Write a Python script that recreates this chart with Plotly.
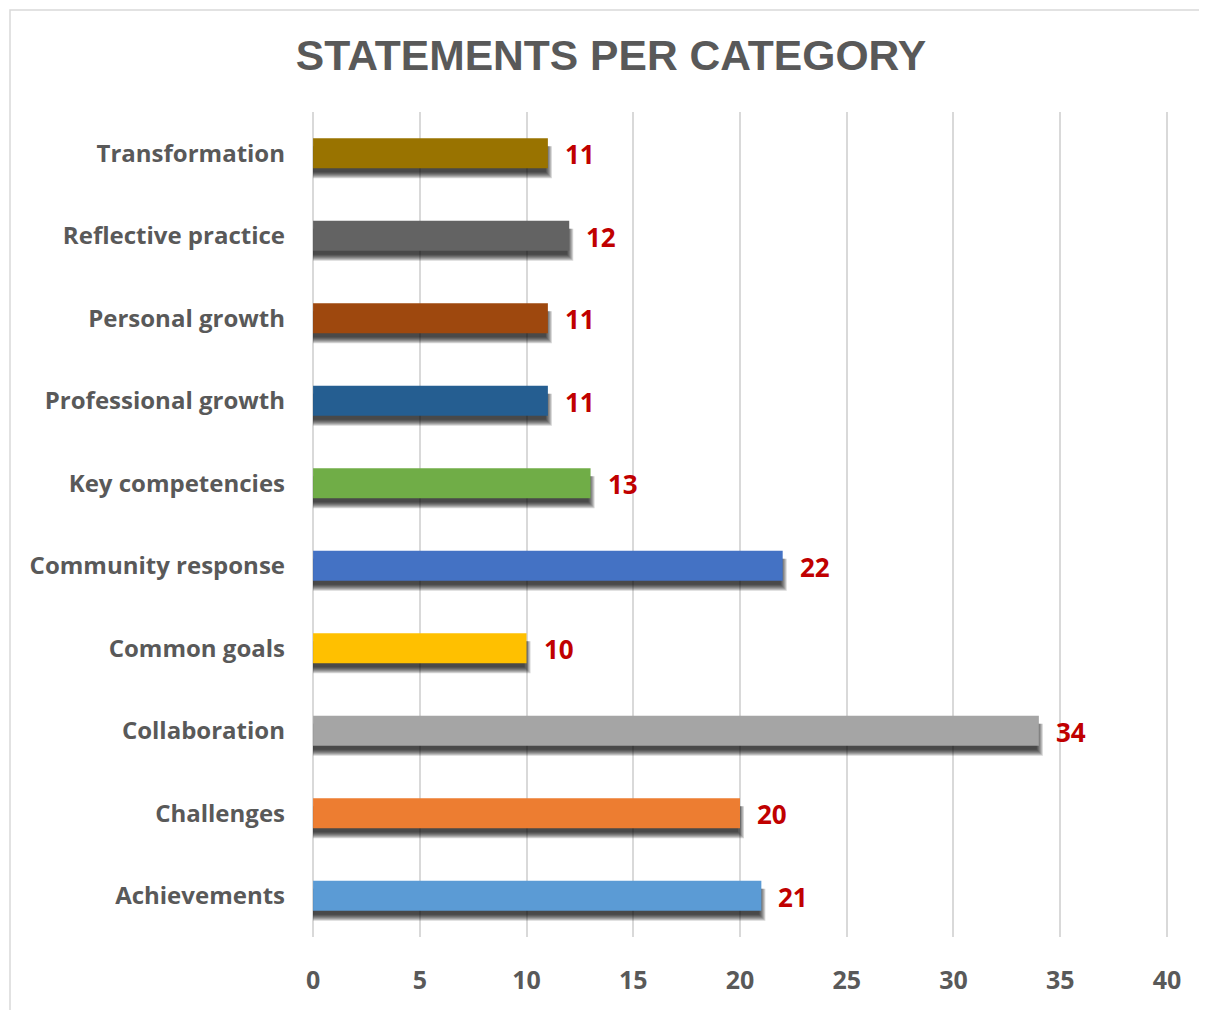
import plotly.graph_objects as go

categories = ["Achievements", "Challenges", "Collaboration", "Common goals",
              "Community response", "Key competencies", "Professional growth",
              "Personal growth", "Reflective practice", "Transformation"]
values = [21, 20, 34, 10, 22, 13, 11, 11, 12, 11]
colors = ["#5B9BD5", "#ED7D31", "#A5A5A5", "#FFC000", "#4472C4",
          "#70AD47", "#255E91", "#9E480E", "#636363", "#997300"]
x_ticks = [0, 5, 10, 15, 20, 25, 30, 35, 40]

# page has an 8px body margin, so figure coordinates are page coordinates - 8
OFF = 8
W, H = 1207 - OFF, 1010 - OFF
XR = [-0.05, 40.05]
ML, MR, MT, MB = 313 - OFF - 1, 1207 - 1167 - 1, 112 - OFF, 1010 - 937
plot_w = W - ML - MR
plot_h = H - MT - MB
px_x = (XR[1] - XR[0]) / plot_w
px_y = 10 / plot_h
bar_w = 30 * px_y

fig = go.Figure()

# soft (blurred) shadow layers: below and slightly right of each bar, none above
for s in [6, 5, 4, 3, 2, 1, 0]:
    fig.add_trace(go.Bar(
        y=categories, x=[v + (s - 2) * px_x for v in values], orientation="h",
        width=bar_w + (s - 4) * px_y,
        offset=-(bar_w / 2) - (4 + s) * px_y,
        marker=dict(color="rgba(0,0,0,0.16)", line=dict(width=0)),
        hoverinfo="skip", showlegend=False))

fig.add_trace(go.Bar(
    y=categories, x=values, orientation="h", width=bar_w,
    marker=dict(color=colors, line=dict(width=0)), showlegend=False))

for c, v in zip(categories, values):
    fig.add_annotation(x=v, y=c, text=f"<b>{v}</b>", showarrow=False,
                       xanchor="left", yanchor="middle", xshift=15, yshift=-1,
                       font=dict(family="Open Sans", size=26, color="#C00000"))

# outer chart border
fig.add_shape(type="rect", xref="paper", yref="paper",
              x0=(10 - OFF - ML) / plot_w, x1=(W + 20 - ML) / plot_w,
              y0=-(MB + 20) / plot_h, y1=1 + (MT - (10 - OFF)) / plot_h,
              line=dict(color="#D9D9D9", width=1.5), layer="below")

fig.update_layout(
    width=W, height=H, barmode="overlay",
    margin=dict(l=ML, r=MR, t=MT, b=MB),
    paper_bgcolor="white", plot_bgcolor="white",
    title=dict(text="<b>STATEMENTS PER CATEGORY</b>", x=(611 - OFF) / W, xanchor="center",
               y=1 - (55 - OFF) / H, yanchor="middle",
               font=dict(family="Liberation Sans", size=42.6, color="#595959")),
    xaxis=dict(range=XR, tickvals=x_ticks, showgrid=True, gridcolor="#D9D9D9",
               gridwidth=2, zeroline=False, showline=False, ticks="",
               ticklabelstandoff=26,
               ticktext=[f"<b>{t}</b>" for t in x_ticks],
               tickfont=dict(family="Open Sans", size=25, color="#595959")),
    yaxis=dict(range=[-0.5, 9.5], showgrid=False, zeroline=False, showline=False,
               ticks="", ticklabelstandoff=26,
               tickvals=categories, ticktext=[f"<b>{c}</b>" for c in categories],
               tickfont=dict(family="Open Sans", size=24, color="#595959")),
    font=dict(family="Open Sans", color="#595959"),
)

fig.write_html("out.html")
